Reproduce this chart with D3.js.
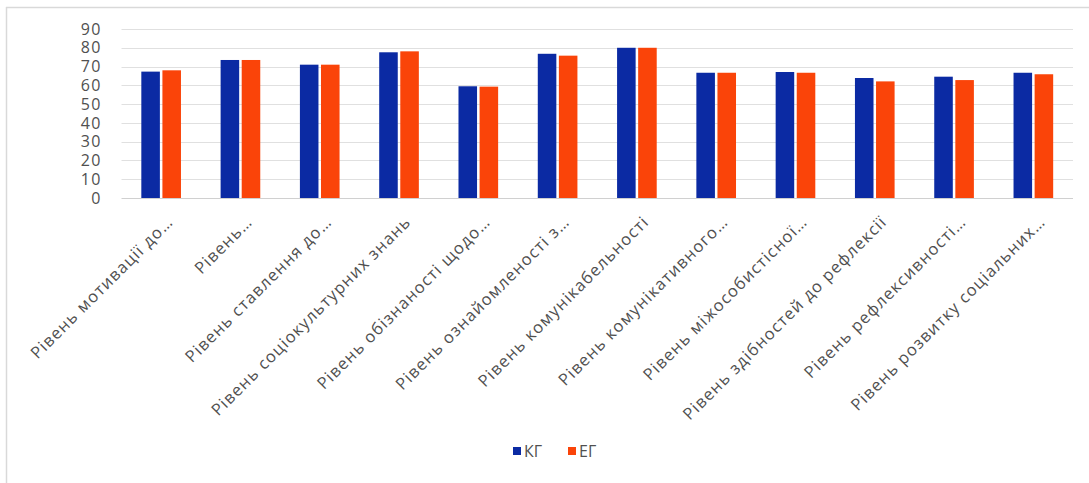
<!DOCTYPE html>
<html>
<head>
<meta charset="utf-8">
<script src="https://cdn.jsdelivr.net/npm/d3@7"></script>
<style>
  html, body { margin: 0; padding: 0; background: #fff; }
  svg { display: block; }
</style>
</head>
<body>
<svg id="chart" width="1089" height="483"></svg>
<script>
// Category labels (already shortened with an ellipsis, as in the axis)
const categories = [
  "Рівень мотивації до…",
  "Рівень…",
  "Рівень ставлення до…",
  "Рівень соціокультурних знань",
  "Рівень обізнаності щодо…",
  "Рівень ознайомленості з…",
  "Рівень комунікабельності",
  "Рівень комунікативного…",
  "Рівень міжособистісної…",
  "Рівень здібностей до рефлексії",
  "Рівень рефлексивності…",
  "Рівень розвитку соціальних…"
];
const seriesNames = ["КГ", "ЕГ"];
const kgValues = [67.3, 73.5, 71.0, 77.6, 59.5, 76.8, 80.0, 66.7, 67.1, 63.9, 64.6, 66.7];
const egValues = [68.0, 73.5, 71.0, 78.1, 59.3, 75.8, 80.0, 66.7, 66.7, 62.1, 62.8, 65.9];
const yTicks = [0, 10, 20, 30, 40, 50, 60, 70, 80, 90];

const colors = { "КГ": "#0B2AA3", "ЕГ": "#FA4409" };
const font = "'Open Sans', 'Noto Sans', sans-serif";
const textColor = "#505050";

const svg = d3.select("#chart");
const W = 1089, H = 483;
const plot = { left: 121.5, right: 1073, top: 29, bottom: 198 };

// Outer chart frame (top and left edges visible)
svg.append("line").attr("x1", 6).attr("x2", W).attr("y1", 7.5).attr("y2", 7.5)
  .attr("stroke", "#d9d9d9").attr("stroke-width", 1.5);
svg.append("line").attr("x1", 6.5).attr("x2", 6.5).attr("y1", 7).attr("y2", H)
  .attr("stroke", "#d9d9d9").attr("stroke-width", 1.5);

const x0 = d3.scaleBand().domain(categories).range([plot.left, plot.right]).paddingInner(0.5).paddingOuter(0.25);
const x1 = d3.scaleBand().domain(seriesNames).range([0, x0.bandwidth()]).paddingInner(0.12);
const y = d3.scaleLinear().domain([0, 90]).range([plot.bottom, plot.top]);

// Horizontal gridlines
svg.append("g").selectAll("line").data(yTicks).join("line")
  .attr("x1", plot.left).attr("x2", plot.right)
  .attr("y1", d => Math.round(y(d)) + 0.5).attr("y2", d => Math.round(y(d)) + 0.5)
  .attr("stroke", d => d === 0 ? "#d0d0d0" : "#e0e0e0").attr("stroke-width", 1);

// Y axis labels
const yAxis = d3.axisLeft(y).tickValues(yTicks).tickSize(0).tickPadding(0);
const gy = svg.append("g").attr("transform", `translate(102,0)`).call(yAxis);
gy.select(".domain").remove();
gy.selectAll("text").attr("font-family", font).attr("font-size", 16)
  .attr("letter-spacing", 1.5).attr("fill", textColor);

// Bars
const rows = categories.map((c, i) => ({ cat: c, vals: [
  { s: "КГ", v: kgValues[i] }, { s: "ЕГ", v: egValues[i] }
]}));
const groups = svg.append("g").selectAll("g").data(rows).join("g")
  .attr("transform", d => `translate(${x0(d.cat)},0)`);
groups.selectAll("rect").data(d => d.vals).join("rect")
  .attr("x", d => x1(d.s))
  .attr("width", x1.bandwidth())
  .attr("y", d => y(d.v))
  .attr("height", d => y(0) - y(d.v))
  .attr("fill", d => colors[d.s]);

// Rotated category labels
const xAxis = d3.axisBottom(x0).tickSize(0).tickPadding(0);
const gx = svg.append("g").attr("transform", `translate(0,${plot.bottom})`).call(xAxis);
gx.select(".domain").remove();
gx.selectAll("text")
  .attr("font-family", font).attr("font-size", 16.5).attr("fill", textColor)
  .attr("letter-spacing", 1.1)
  .attr("text-anchor", "end")
  .attr("dy", null).attr("y", 0)
  .attr("transform", "translate(13,25) rotate(-45)");

// Legend
const legend = svg.append("g").attr("transform", "translate(513,451)");
const items = legend.selectAll("g").data(seriesNames).join("g")
  .attr("transform", (d, i) => `translate(${i * 55},0)`);
items.append("rect").attr("x", 0).attr("y", -4).attr("width", 8).attr("height", 8)
  .attr("fill", d => colors[d]);
items.append("text").attr("x", 11).attr("y", 0).attr("dy", "0.35em")
  .attr("font-family", font).attr("font-size", 16).attr("fill", textColor)
  .text(d => d);
</script>
</body>
</html>
